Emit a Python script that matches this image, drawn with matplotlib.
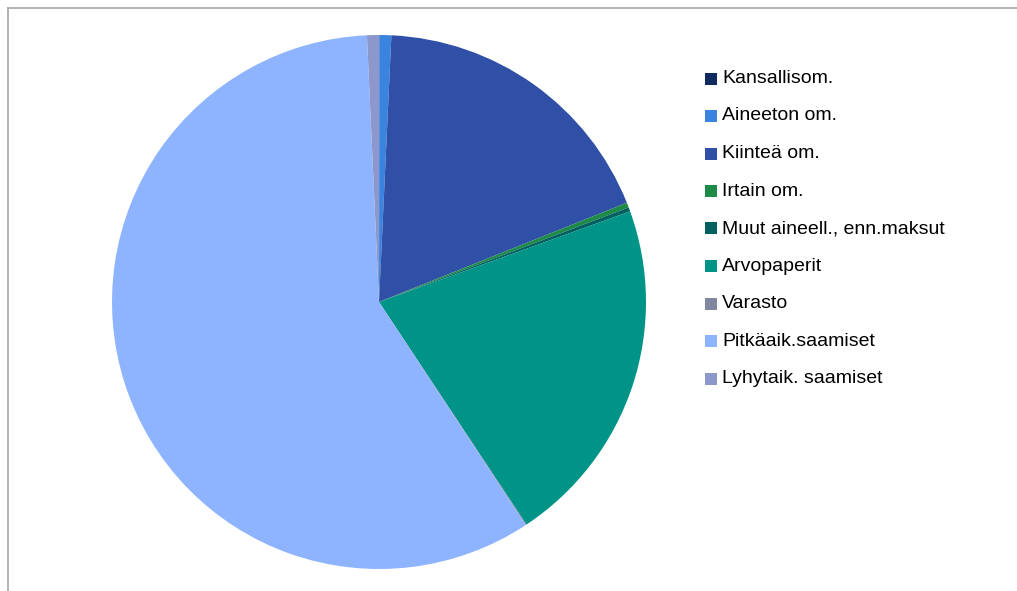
import matplotlib
matplotlib.use("Agg")
import matplotlib.pyplot as plt
from matplotlib.patches import Rectangle
from matplotlib.lines import Line2D

W, H = 1017, 591

labels = ["Kansallisom.", "Aineeton om.", "Kiinteä om.", "Irtain om.",
          "Muut aineell., enn.maksut", "Arvopaperit", "Varasto",
          "Pitkäaik.saamiset", "Lyhytaik. saamiset"]
shares = [0.02, 0.72, 18.2, 0.3, 0.25, 21.2, 0.05, 58.55, 0.72]
colors = ["#0f2a5e", "#3a84e0", "#3050a8", "#1e8a48", "#036060",
          "#009488", "#8088a0", "#8fb4ff", "#8c98cc"]

fig = plt.figure(figsize=(W / 100, H / 100), dpi=100)
plt.rcParams["font.family"] = ["Liberation Sans", "DejaVu Sans"]

# pie centred at (379, 302) px, radius 267 px
cx, cy, r = 379, 302, 267
ax = fig.add_axes([(cx - r) / W, (H - cy - r) / H, 2 * r / W, 2 * r / H])
ax.pie(shares, colors=colors, startangle=90, counterclock=False,
       radius=1.0, wedgeprops=dict(linewidth=0))
ax.set_xlim(-1, 1)
ax.set_ylim(-1, 1)
ax.set_axis_off()

# grey frame (left and top only visible)
fig.add_artist(Line2D([7.5 / W, 7.5 / W], [0, 1 - 7.5 / H],
                      transform=fig.transFigure, color="#a6a6a6", lw=1.2))
fig.add_artist(Line2D([7.5 / W, 1], [1 - 7.5 / H, 1 - 7.5 / H],
                      transform=fig.transFigure, color="#a6a6a6", lw=1.2))

# legend
y0, step = 78.5, 37.5
for i, (lab, col) in enumerate(zip(labels, colors)):
    y = y0 + i * step
    fig.add_artist(Rectangle((705 / W, (H - y - 6) / H), 12 / W, 12 / H,
                             transform=fig.transFigure, color=col, lw=0))
    fig.text(722 / W, (H - y) / H, lab, fontsize=14, color="#000000",
             va="center", ha="left")

fig.savefig("out.png", dpi=100, facecolor="white")
